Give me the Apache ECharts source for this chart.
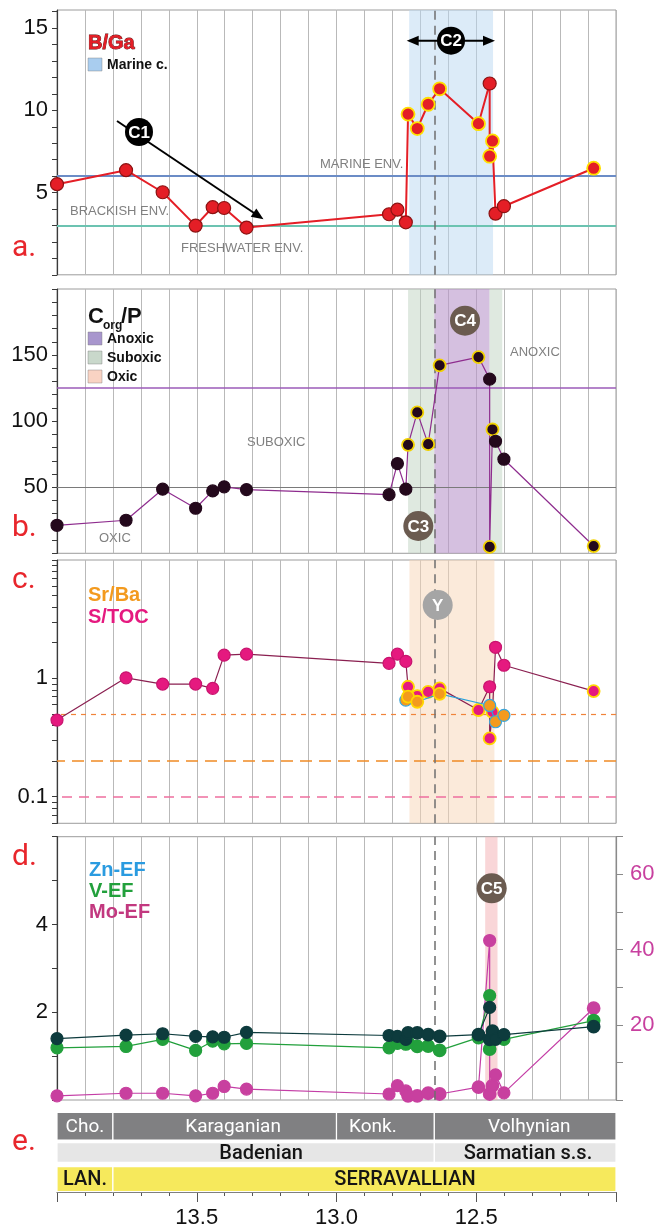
<!DOCTYPE html>
<html>
<head>
<meta charset="utf-8">
<title>Geochemical proxies across the Badenian–Sarmatian</title>
<script src="https://cdn.jsdelivr.net/npm/echarts@6/dist/echarts.min.js"></script>
<style>
  html, body { margin: 0; padding: 0; background: #ffffff; }
  #chart { width: 663px; height: 1231px; }
</style>
</head>
<body>
<div id="chart"></div>
<script>
// ---- sample ages (Ma) shared by every proxy series ----
const AGE = [14.0, 13.753, 13.622, 13.504, 13.443, 13.402, 13.322, 12.812, 12.782, 12.752,
             12.744, 12.711, 12.672, 12.631, 12.492, 12.452, 12.452, 12.442, 12.431, 12.401, 12.080];
// samples drawn with a yellow rim
const HIGHLIGHT = [10, 11, 12, 13, 14, 16, 17, 20];

// a. B/Ga
const B_GA = [5.51, 6.36, 5.02, 2.99, 4.11, 4.06, 2.87, 3.68, 3.96, 3.19,
              9.77, 8.89, 10.37, 11.31, 9.19, 11.63, 7.21, 8.14, 3.72, 4.17, 6.48];
// b. Corg/P
const CORG_P = [21.2, 25.0, 48.5, 34.1, 47.2, 50.3, 48.2, 44.4, 67.9, 48.5,
                82.1, 106.6, 82.6, 142.2, 148.5, 131.8, 4.8, 93.7, 84.8, 71.2, 5.5];
// c. S/TOC and Sr/Ba
const S_TOC = [0.444, 1.01, 0.895, 0.895, 0.823, 1.57, 1.60, 1.34, 1.60, 1.39,
               0.849, 0.708, 0.77, 0.823, 0.54, 0.849, 0.311, 0.52, 1.83, 1.29, 0.78];
const SR_BA = [null, null, null, null, null, null, null, null, null, 0.655,
               0.70, 0.634, null, 0.74, null, 0.59, null, null, 0.43, 0.487, null];
// d. enrichment factors
const ZN_EF = [1.40, 1.48, 1.51, 1.45, 1.44, 1.43, 1.54, 1.47, 1.45, 1.38,
               1.53, 1.53, 1.49, 1.45, 1.49, 2.11, 1.38, 1.57, 1.38, 1.49, 1.67];
const V_EF = [1.19, 1.22, 1.38, 1.13, 1.34, 1.28, 1.29, 1.19, 1.29, 1.27,
              1.31, 1.22, 1.23, 1.13, 1.42, 2.38, 1.16, 1.40, 1.43, 1.38, 1.81];
const MO_EF = [1.1, 1.8, 1.8, 1.1, 1.8, 3.6, 2.9, 1.6, 3.8, 2.4,
               1.1, 1.1, 1.8, 1.6, 3.4, 42.4, 1.6, 3.8, 6.7, 1.9, 24.4];

// ---- thresholds and intervals ----
const BGA_MARINE = 6, BGA_FRESH = 3;
const CORG_ANOXIC = 125, CORG_OXIC = 50;
const SRBA_LIMIT = 0.5, SRBA_LOW = 0.2, STOC_LIMIT = 0.1;
const BOUNDARY = 12.65;
const MARINE_BAND = [12.74, 12.44];
const SUBOXIC_BANDS = [[12.744, 12.65], [12.453, 12.407]];
const ANOXIC_BAND = [12.65, 12.453];
const OXIC_BAND = [12.739, 12.435];
const MO_BAND = [12.468, 12.424];

// ---- stratigraphy ----
const REGIONAL = ['Cho.', 'Karaganian', 'Konk.', 'Volhynian'];
const REGIONAL_START = [14.0, 13.8, 13.0, 12.65];
const REGIONAL_END = [13.8, 13.0, 12.65, 12.0];
const REGIONAL_AT = [13.9, 13.37, 12.87, 12.31];
const SUPER = ['Badenian', 'Sarmatian s.s.'];
const SUPER_START = [14.0, 12.65];
const SUPER_END = [12.65, 12.0];
const SUPER_AT = [13.27, 12.315];
const GLOBAL = ['LAN.', 'SERRAVALLIAN'];
const GLOBAL_START = [14.0, 13.8];
const GLOBAL_END = [13.8, 12.0];
const GLOBAL_AT = [13.9, 12.755];

// ---- tick labels ----
const AGE_LABELS = [13.5, 13.0, 12.5];
const BGA_LABELS = [5, 10, 15];
const CORG_LABELS = [50, 100, 150];
const RATIO_LABELS = [0.1, 1];
const EF_LABELS = [2, 4];
const MO_LABELS = [20, 40, 60];

const NUM_FONT = 'Liberation Sans, Arial, sans-serif';
const BOLD_FONT = '"Liberation Sans Narrow", "Liberation Sans", Arial, sans-serif';

function range(a, b, step) {
  const out = [];
  for (let v = a; v <= b + 1e-9; v += step) out.push(Math.round(v * 1000) / 1000);
  return out;
}

const GRID_L = 57, GRID_W = 559;
const grids = [
  { left: GRID_L, width: GRID_W, top: 10, height: 264.8 },
  { left: GRID_L, width: GRID_W, top: 289, height: 264.3 },
  { left: GRID_L, width: GRID_W, top: 560, height: 263.3 },
  { left: GRID_L, width: GRID_W, top: 836.7, height: 263.3 },
  { left: GRID_L, width: GRID_W, top: 1112, height: 80 }
].map((g, i) => Object.assign(g, i < 4 ? { show: true, borderColor: '#9c9c9c', borderWidth: 1 } : { show: false }));

function panelX(i) {
  return {
    type: 'value', gridIndex: i, min: 12, max: 14, inverse: true, interval: 0.1,
    axisLine: { show: false }, axisTick: { show: false }, axisLabel: { show: false },
    splitLine: { show: true, lineStyle: { color: '#b9b9b9', width: 1 } }
  };
}

function leftY(i, min, max, ticks, labels, extra) {
  return Object.assign({
    type: 'value', gridIndex: i, min: min, max: max,
    axisLine: { show: true, onZero: false, lineStyle: { color: '#3a3a3a', width: 1.2 } },
    axisTick: { show: true, inside: false, length: 5, customValues: ticks, lineStyle: { color: '#3a3a3a' } },
    axisLabel: { customValues: labels, fontSize: 22, color: '#111', margin: 9, fontFamily: NUM_FONT },
    splitLine: { show: false }
  }, extra || {});
}

function points(vals, fill, edge, rim) {
  const out = [];
  vals.forEach((v, i) => {
    if (v == null) return;
    const hl = HIGHLIGHT.indexOf(i) >= 0;
    out.push({
      value: [AGE[i], v],
      itemStyle: { color: fill, borderColor: hl ? rim : edge, borderWidth: hl ? 1.8 : 1.2 }
    });
  });
  return out;
}

function hLine(value, color, width, type) {
  return { yAxis: value, lineStyle: { color: color, width: width, type: type || 'solid' } };
}

function boundaryLine() {
  return { xAxis: BOUNDARY, lineStyle: { color: '#6f6f6f', width: 1.5, type: [9, 6] } };
}

function band(r, color) {
  return [{ xAxis: r[0], itemStyle: { color: color } }, { xAxis: r[1] }];
}

function decor(i, yIdx, areas, lines) {
  return {
    type: 'line', xAxisIndex: i, yAxisIndex: yIdx, data: [], z: 1, silent: true,
    markArea: { silent: true, data: areas },
    markLine: { silent: true, symbol: 'none', label: { show: false }, data: lines, animation: false }
  };
}

// stratigraphic strip cells
const strips = [];
REGIONAL.forEach((n, k) => strips.push({ name: n, s: REGIONAL_START[k], e: REGIONAL_END[k], at: REGIONAL_AT[k], row: 0 }));
SUPER.forEach((n, k) => strips.push({ name: n, s: SUPER_START[k], e: SUPER_END[k], at: SUPER_AT[k], row: 1 }));
GLOBAL.forEach((n, k) => strips.push({ name: n, s: GLOBAL_START[k], e: GLOBAL_END[k], at: GLOBAL_AT[k], row: 2 }));
const ROW_TOP = [0.3, 30.7, 54.7];
const ROW_H = [27.7, 19.6, 25.0];
const ROW_FILL = ['#808082', '#e6e6e6', '#f6e95c'];
const ROW_TEXT = ['#ffffff', '#151515', '#151515'];

const seriesList = [
  // a. B/Ga
  decor(0, 0, [band(MARINE_BAND, 'rgba(185,215,241,0.5)')],
        [hLine(BGA_MARINE, '#6b8cc6', 2), hLine(BGA_FRESH, '#6cc3b1', 2), boundaryLine()]),
  {
    type: 'line', name: 'B/Ga', xAxisIndex: 0, yAxisIndex: 0, z: 5, clip: false,
    data: points(B_GA, '#e41e26', '#8c1212', '#ffe000'),
    symbol: 'circle', symbolSize: 13,
    lineStyle: { color: '#e41e26', width: 2 }
  },
  // b. Corg/P
  decor(1, 1, [band(SUBOXIC_BANDS[0], 'rgba(191,211,193,0.5)'),
               band(SUBOXIC_BANDS[1], 'rgba(191,211,193,0.5)'),
               band(ANOXIC_BAND, 'rgba(185,150,203,0.6)')],
        [hLine(CORG_ANOXIC, '#9b5bb8', 1.6), hLine(CORG_OXIC, '#7a7a7a', 1.2), boundaryLine()]),
  {
    type: 'line', name: 'Corg/P', xAxisIndex: 1, yAxisIndex: 1, z: 5, clip: false,
    data: points(CORG_P, '#24091c', '#24091c', '#f2d200'),
    symbol: 'circle', symbolSize: 12,
    lineStyle: { color: '#8e2c8e', width: 1.2 }
  },
  // c. S/TOC and Sr/Ba
  decor(2, 2, [band(OXIC_BAND, 'rgba(247,213,181,0.5)')],
        [hLine(SRBA_LIMIT, '#f0843a', 1.2, [5, 5]), hLine(SRBA_LOW, '#f08a24', 1.6, [12, 7]),
         hLine(STOC_LIMIT, '#ee6f9f', 1.6, [10, 7]), boundaryLine()]),
  {
    type: 'line', name: 'S/TOC', xAxisIndex: 2, yAxisIndex: 2, z: 5, clip: false,
    data: points(S_TOC, '#e5197f', '#c8146e', '#ffd600'),
    symbol: 'circle', symbolSize: 12,
    lineStyle: { color: '#8a1f50', width: 1.2 }
  },
  {
    type: 'line', name: 'Sr/Ba', xAxisIndex: 2, yAxisIndex: 2, z: 6, clip: false, connectNulls: true,
    data: points(SR_BA, '#f39a1e', '#3aa6dc', '#ffd600'),
    symbol: 'circle', symbolSize: 12,
    lineStyle: { color: '#2aa4dc', width: 1.2 }
  },
  // d. enrichment factors
  decor(3, 3, [band(MO_BAND, 'rgba(243,173,177,0.5)')], [boundaryLine()]),
  {
    type: 'line', name: 'Mo-EF', xAxisIndex: 3, yAxisIndex: 4, z: 4, clip: false,
    data: points(MO_EF, '#c8409f', '#c8409f', '#c8409f'),
    symbol: 'circle', symbolSize: 12,
    lineStyle: { color: '#c43ea6', width: 1.2 }
  },
  {
    type: 'line', name: 'V-EF', xAxisIndex: 3, yAxisIndex: 3, z: 5, clip: false,
    data: points(V_EF, '#22a03c', '#22a03c', '#22a03c'),
    symbol: 'circle', symbolSize: 12,
    lineStyle: { color: '#22a03c', width: 1.2 }
  },
  {
    type: 'line', name: 'Zn-EF', xAxisIndex: 3, yAxisIndex: 3, z: 6, clip: false,
    data: points(ZN_EF, '#0d3b3d', '#0d3b3d', '#0d3b3d'),
    symbol: 'circle', symbolSize: 12,
    lineStyle: { color: '#0d3b3d', width: 1.2 }
  },
  // e. stratigraphy
  {
    type: 'custom', xAxisIndex: 4, yAxisIndex: 5, silent: true,
    data: strips.map(c => [c.s, c.e, c.row, c.at]),
    renderItem: function (params, api) {
      const c = strips[params.dataIndex];
      const row = api.value(2);
      const p0 = api.coord([api.value(0), ROW_TOP[row]]);
      const p1 = api.coord([api.value(1), ROW_TOP[row] + ROW_H[row]]);
      const lab = api.coord([api.value(3), ROW_TOP[row] + ROW_H[row] / 2]);
      return {
        type: 'group',
        children: [
          { type: 'rect',
            shape: { x: Math.min(p0[0], p1[0]), y: p0[1], width: Math.abs(p1[0] - p0[0]), height: p1[1] - p0[1] },
            style: { fill: ROW_FILL[row], stroke: '#ffffff', lineWidth: 1.2 } },
          { type: 'text', x: lab[0], y: lab[1] + 1,
            style: { text: c.name, fill: ROW_TEXT[row], fontSize: row === 0 ? 19 : 20,
                     fontFamily: 'Roboto, sans-serif', fontWeight: row === 0 ? 400 : 500,
                     align: 'center', verticalAlign: 'middle' } }
        ]
      };
    }
  }
];

// ---- annotations ----
function badge(cx, cy, r, fill, label) {
  return [
    { type: 'circle', shape: { cx: cx, cy: cy, r: r }, style: { fill: fill }, z: 50 },
    { type: 'text', x: cx, y: cy + 1, z: 51,
      style: { text: label, fill: '#ffffff', font: 'bold 17px ' + BOLD_FONT, align: 'center', verticalAlign: 'middle' } }
  ];
}
function txt(x, y, s, color, font, extra) {
  return { type: 'text', x: x, y: y, z: 40,
    style: Object.assign({ text: s, fill: color, font: font, align: 'left', verticalAlign: 'middle' }, extra || {}) };
}
function swatch(x, y, color) {
  return { type: 'rect', shape: { x: x, y: y, width: 14, height: 13 }, z: 40,
    style: { fill: color, stroke: 'rgba(120,120,120,0.5)', lineWidth: 0.8 } };
}
function arrowHead(tip, dir) {
  const len = 12, half = 5;
  const bx = tip[0] - dir[0] * len, by = tip[1] - dir[1] * len;
  const px = -dir[1], py = dir[0];
  return { type: 'polygon', z: 45,
    shape: { points: [tip, [bx + px * half, by + py * half], [bx - px * half, by - py * half]] },
    style: { fill: '#000' } };
}

const ENV_FONT = '13px ' + BOLD_FONT;
const LEG_FONT = 'bold 20px ' + BOLD_FONT;
const SMALL_LEG = 'bold 14px ' + BOLD_FONT;
const LETTER_FONT = '30px Roboto, sans-serif';

const c1from = [117, 121], c1to = [263.5, 219.3];
const c1len = Math.hypot(c1to[0] - c1from[0], c1to[1] - c1from[1]);
const c1dir = [(c1to[0] - c1from[0]) / c1len, (c1to[1] - c1from[1]) / c1len];

const graphics = [
  // panel letters
  txt(12, 248, 'a.', '#e8262c', LETTER_FONT),
  txt(12, 528, 'b.', '#e8262c', LETTER_FONT),
  txt(12, 580, 'c.', '#e8262c', LETTER_FONT),
  txt(12, 857, 'd.', '#e8262c', LETTER_FONT),
  txt(12, 1142, 'e.', '#e8262c', LETTER_FONT),

  // a. legend and environment labels
  txt(88, 43, 'B/Ga', '#e41e26', LEG_FONT, { stroke: '#5a0a0a', lineWidth: 0.8 }),
  swatch(88, 58, '#a9cdef'),
  txt(107, 65, 'Marine c.', '#111', SMALL_LEG),
  txt(320, 164, 'MARINE ENV.', '#808080', ENV_FONT),
  txt(70, 211, 'BRACKISH ENV.', '#808080', ENV_FONT),
  txt(181, 248, 'FRESHWATER ENV.', '#808080', ENV_FONT),
  { type: 'polyline', z: 45, shape: { points: [c1from, [c1to[0] - c1dir[0] * 10, c1to[1] - c1dir[1] * 10]] },
    style: { stroke: '#000', lineWidth: 2, fill: null } },
  arrowHead(c1to, c1dir),
  { type: 'polyline', z: 45, shape: { points: [[416, 40.7], [486, 40.7]] },
    style: { stroke: '#000', lineWidth: 2, fill: null } },
  arrowHead([406.7, 40.7], [-1, 0]),
  arrowHead([495, 40.7], [1, 0]),
  ...badge(139, 132, 14, '#000000', 'C1'),
  ...badge(451, 40.7, 14, '#000000', 'C2'),

  // b. legend and redox labels
  txt(88, 317, 'C', '#111', 'bold 22px ' + BOLD_FONT),
  txt(103, 326, 'org', '#111', 'bold 12px ' + BOLD_FONT),
  txt(121, 317, '/P', '#111', 'bold 22px ' + BOLD_FONT),
  swatch(88, 332, '#a896cd'),
  txt(107, 339, 'Anoxic', '#111', SMALL_LEG),
  swatch(88, 351, '#c9d8cb'),
  txt(107, 358, 'Suboxic', '#111', SMALL_LEG),
  swatch(88, 370, '#f9d3c3'),
  txt(107, 377, 'Oxic', '#111', SMALL_LEG),
  txt(510, 352, 'ANOXIC', '#808080', ENV_FONT),
  txt(247, 442, 'SUBOXIC', '#808080', ENV_FONT),
  txt(99, 538, 'OXIC', '#808080', ENV_FONT),
  ...badge(465, 320.7, 15, '#6b5b50', 'C4'),
  ...badge(418.3, 526, 15, '#6b5b50', 'C3'),

  // c. legend
  txt(88, 595, 'Sr/Ba', '#f39a1e', LEG_FONT),
  txt(88, 617, 'S/TOC', '#e5197f', LEG_FONT),
  ...badge(437.7, 605, 15, '#a5a5a5', 'Y'),

  // d. legend
  txt(89, 870, 'Zn-EF', '#2a9be0', LEG_FONT),
  txt(89, 891, 'V-EF', '#22a03c', LEG_FONT),
  txt(89, 912, 'Mo-EF', '#c2387f', LEG_FONT),
  ...badge(491.7, 888.3, 15, '#6b5b50', 'C5')
];

const option = {
  animation: false,
  backgroundColor: '#ffffff',
  grid: grids,
  xAxis: [
    panelX(0), panelX(1), panelX(2), panelX(3),
    {
      type: 'value', gridIndex: 4, min: 12, max: 14, inverse: true, interval: 0.5,
      position: 'bottom',
      axisLine: { show: true, onZero: false, lineStyle: { color: '#555', width: 1.2 } },
      axisTick: { show: true, length: 10, lineStyle: { color: '#555' } },
      minorTick: { show: true, splitNumber: 5, length: 4, lineStyle: { color: '#555' } },
      axisLabel: { customValues: AGE_LABELS, fontSize: 22, color: '#111', margin: 15, fontFamily: NUM_FONT,
                   formatter: v => Number(v).toFixed(1) },
      splitLine: { show: false }
    }
  ],
  yAxis: [
    leftY(0, 0, 16.1, range(0, 16, 1), BGA_LABELS),
    leftY(1, 0, 200, range(0, 200, 10), CORG_LABELS),
    leftY(2, 0.0596, 10,
          [0.06, 0.07, 0.08, 0.09, 0.1, 0.2, 0.3, 0.4, 0.5, 0.6, 0.7, 0.8, 0.9, 1,
           2, 3, 4, 5, 6, 7, 8, 9, 10],
          RATIO_LABELS, { type: 'log', logBase: 10 }),
    leftY(3, 0, 6, range(0, 6, 1), EF_LABELS),
    {
      type: 'value', gridIndex: 3, min: 0, max: 70, position: 'right',
      axisLine: { show: true, onZero: false, lineStyle: { color: '#8a8a8a', width: 1.2 } },
      axisTick: { show: true, inside: false, length: 7, customValues: range(0, 70, 10), lineStyle: { color: '#8a8a8a' } },
      axisLabel: { customValues: MO_LABELS, fontSize: 22, color: '#c8409f', margin: 14, fontFamily: NUM_FONT },
      splitLine: { show: false }
    },
    { type: 'value', gridIndex: 4, min: 0, max: 80, inverse: true, show: false }
  ],
  series: seriesList,
  graphic: graphics
};

const chart = echarts.init(document.getElementById('chart'), null, { renderer: 'canvas' });
chart.setOption(option);
</script>
</body>
</html>
